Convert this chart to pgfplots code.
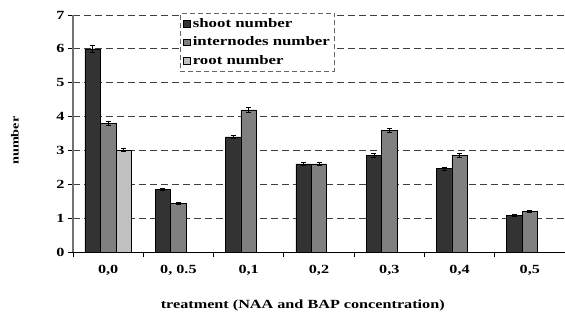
\documentclass[border=0pt]{standalone}
\usepackage{fontspec}
\setmainfont{Liberation Serif}[FakeStretch=1.3]
\usepackage{pgfplots}
\pgfplotsset{compat=1.18}

\definecolor{shootc}{HTML}{333333}
\definecolor{internc}{HTML}{808080}
\definecolor{rootc}{HTML}{C0C0C0}

\begin{document}
\begin{tikzpicture}
\begin{axis}[
    at={(73bp,70bp)}, anchor=south west,
    scale only axis,
    width=492bp, height=237bp,
    ybar=0pt, bar width=0.22,
    xmin=-0.5, xmax=6.5,
    ymin=0, ymax=7,
    ytick={0,...,7},
    xtick={0,...,6},
    xticklabels={{0,0},{0, 0.5},{0,1},{0,2},{0,3},{0,4},{0,5}},
    major x tick style={draw=none},
    minor xtick={-0.5,0.5,...,6.5},
    minor tick length=5bp,
    major tick length=5bp,
    tick align=outside,
    tick style={black, line width=0.8pt},
    axis lines*=left,
    x axis line style={black, line width=1pt},
    y axis line style={black!55, line width=1.2pt},
    ymajorgrids,
    grid style={black!75, dash pattern=on 7bp off 4bp, line width=0.8pt},
    /pgf/number format/assume math mode=true,
    tick label style={font=\bfseries\fontsize{12.5}{14}\selectfont},
    xticklabel style={yshift=-5bp},
    xlabel={treatment (NAA and BAP concentration)},
    xlabel style={font=\bfseries\fontsize{12.5}{14}\selectfont,
        at={(axis description cs:0.467,0)}, anchor=center, yshift=-54bp},
    ylabel={number},
    ylabel style={font=\bfseries\fontsize{11}{13}\selectfont,
        at={(axis description cs:0,0.47)}, anchor=center, yshift=58bp},
    legend style={
        at={(0.2175,1.008)}, anchor=north west,
        draw=black!60, dash pattern=on 5bp off 3bp, line width=0.8pt,
        fill=white,
        font=\bfseries\fontsize{13}{15}\selectfont,
        row sep=4bp, inner sep=3bp,
    },
    legend cell align=left,
    legend image code/.code={%
        \draw[#1, solid, line width=0.6pt] (0cm,-0.12cm) rectangle (0.24cm,0.12cm);
    },
    every axis plot/.append style={draw=black, line width=0.6pt},
    error bars/error bar style={black, line width=0.6pt},
    error bars/error mark options={rotate=90, mark size=2.5bp, line width=0.6pt},
]
% shoot number
\addplot[fill=shootc, error bars/.cd, y dir=both, y explicit]
    coordinates {
        (0,6.00) +- (0,0.10)
        (1,1.85) +- (0,0.04)
        (2,3.40) +- (0,0.05)
        (3,2.60) +- (0,0.05)
        (4,2.86) +- (0,0.06)
        (5,2.46) +- (0,0.04)
        (6,1.08) +- (0,0.02)
    };
% internodes number
\addplot[fill=internc, error bars/.cd, y dir=both, y explicit]
    coordinates {
        (0,3.80) +- (0,0.07)
        (1,1.44) +- (0,0.03)
        (2,4.20) +- (0,0.08)
        (3,2.60) +- (0,0.05)
        (4,3.59) +- (0,0.06)
        (5,2.86) +- (0,0.06)
        (6,1.21) +- (0,0.03)
    };
% root number (only at the first treatment)
\addplot[fill=rootc, error bars/.cd, y dir=both, y explicit]
    coordinates {
        (0,3.01) +- (0,0.05)
    };
\legend{shoot number, internodes number, root number}
\end{axis}
\pgfresetboundingbox
\useasboundingbox (0,0) rectangle (565bp,322bp);
\end{tikzpicture}
\end{document}
